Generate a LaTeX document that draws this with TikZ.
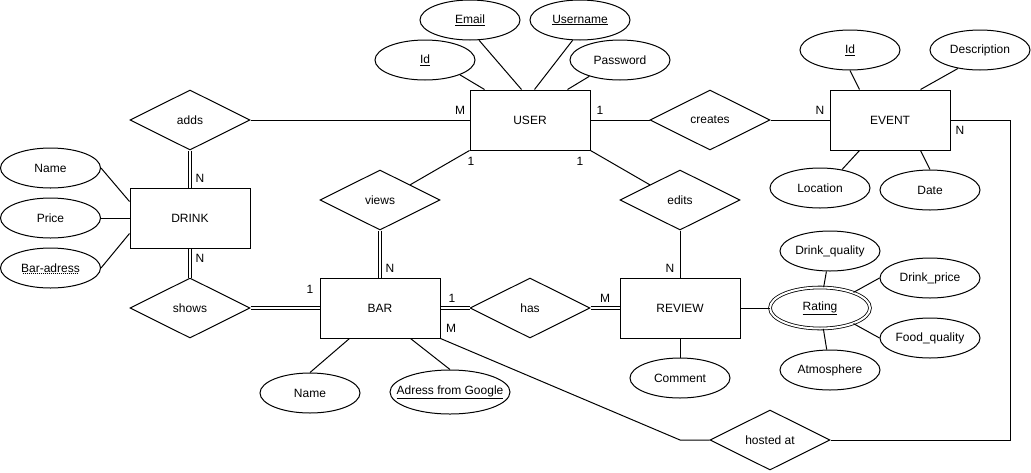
\documentclass[tikz,border=0pt]{standalone}
\usepackage{fontspec}
\setmainfont{Liberation Sans}
\usetikzlibrary{shapes.geometric}
\newcommand\zb[1]{\makebox[0pt]{#1}}
\begin{document}
\begin{tikzpicture}[x=1pt,y=-1pt,
  every node/.style={font=\fontsize{12}{14}\selectfont},
  ent/.style={draw,rectangle,minimum width=120pt,minimum height=60pt,line width=1pt,inner sep=0pt},
  attr/.style={draw,ellipse,minimum width=100pt,minimum height=40pt,line width=1pt,inner sep=0pt},
  rel/.style={draw,diamond,aspect=2,minimum width=120pt,minimum height=60pt,line width=1pt,inner sep=0pt},
  conn/.style={line width=1pt},
  dbl/.style={double,double distance=2pt,line width=0.8pt},
  card/.style={inner sep=0pt}
]
\useasboundingbox (0,0) rectangle (1031,472);

% entities
\node[ent] (user) at (530,120) {USER};
\node[ent] (drink) at (190,218) {DRINK};
\node[ent] (bar) at (380,308) {BAR};
\node[ent] (review) at (680,308) {REVIEW};
\node[ent] (event) at (890,120) {EVENT};

% relationships
\node[rel] (adds) at (190,120) {\zb{adds}};
\node[rel] (shows) at (190,308) {\zb{shows}};
\node[rel] (views) at (380,200) {\zb{views}};
\node[rel] (has) at (530,308) {\zb{has}};
\node[rel] (edits) at (680,200) {\zb{edits}};
\node[rel] (creates) at (710,120) {\zb{creates}};
\node[rel] (hosted) at (770,440) {\zb{hosted at}};

% user attributes
\node[attr] (uid) at (425,60) {\zb{\underline{Id}}};
\node[attr] (email) at (470,20) {\zb{\underline{Email}}};
\node[attr] (username) at (580,20) {\zb{\underline{Username}}};
\node[attr] (password) at (620,60) {\zb{Password}};

% drink attributes
\node[attr] (dname) at (50.5,168) {\zb{Name}};
\node[attr] (price) at (50.5,218) {\zb{Price}};
\node[attr] (baradr) at (50.5,268) {\zb{Bar-adress}};
\draw[line width=0.6pt,dash pattern=on 1pt off 1pt] ([xshift=-28pt,yshift=-5pt]baradr.center) -- ([xshift=28pt,yshift=-5pt]baradr.center);

% bar attributes
\node[attr] (bname) at (310,393) {\zb{Name}};
\node[attr,minimum width=120pt,minimum height=44pt] (bgoogle) at (450,392) {\zb{\underline{Adress from Google}}};

% review attributes
\node[attr] (comment) at (680,378) {\zb{Comment}};
\node[attr,double,double distance=2pt,line width=0.8pt,minimum height=41pt] (rating) at (820,308) {\zb{\underline{Rating}}};
\node[attr] (drinkq) at (830,251) {\zb{Drink\_quality}};
\node[attr] (drinkp) at (930,278) {\zb{Drink\_price}};
\node[attr] (foodq) at (930,338) {\zb{Food\_quality}};
\node[attr] (atmos) at (830,370) {\zb{Atmosphere}};

% event attributes
\node[attr] (eid) at (850,50) {\zb{\underline{Id}}};
\node[attr] (desc) at (980,50) {\zb{Description}};
\node[attr] (loc) at (820,188) {\zb{Location}};
\node[attr] (date) at (930,190) {\zb{Date}};

% attribute connectors
\draw[conn] (uid.-23) -- ([xshift=15pt]user.north west);
\draw[conn] (email.-66) -- ([xshift=52pt]user.north west);
\draw[conn] (username.-110) -- ([xshift=65pt]user.north west);
\draw[conn] (password.-152) -- ([xshift=-23pt]user.north east);

\draw[conn] (dname.east) -- ([yshift=-14pt]drink.north west);
\draw[conn] (price.east) -- (drink.west);
\draw[conn] (baradr.east) -- ([yshift=15pt]drink.south west);

\draw[conn] ([xshift=30pt]bar.south west) -- (bname.north);
\draw[conn] ([xshift=-30pt]bar.south east) -- (bgoogle.north);

\draw[conn] (review.south) -- (comment.north);
\draw[conn] (review.east) -- (rating.west);
\draw[conn] (rating) -- (drinkq);
\draw[conn] (rating.25) -- (drinkp.west);
\draw[conn] (rating.-25) -- (foodq.west);
\draw[conn] (rating) -- (atmos);

\draw[conn] (eid.south) -- ([xshift=30pt]event.north west);
\draw[conn] (desc.-140) -- ([xshift=-30pt]event.north east);
\draw[conn] (loc.40) -- ([xshift=30pt]event.south west);
\draw[conn] (date.north) -- ([xshift=-30pt]event.south east);

% relationship connectors
\draw[conn] (adds.east) -- (user.west);
\draw[dbl] (adds.south) -- (drink.north);
\draw[dbl] (drink.south) -- (shows.north);
\draw[dbl] (shows.east) -- (bar.west);
\draw[conn] (views.north east) -- (user.south west);
\draw[dbl] (views.south) -- (bar.north);
\draw[conn] (user.south east) -- (edits.north west);
\draw[conn] (edits.south) -- (review.north);
\draw[dbl] (bar.east) -- (has.west);
\draw[dbl] (has.east) -- (review.west);
\draw[conn] (user.east) -- (creates.west);
\draw[conn] (creates.east) -- (event.west);

\coordinate (ecorner) at (1010,120);
\draw[conn] (event.east) -- (ecorner) |- (hosted.east);
\coordinate (hbend) at (680,440);
\draw[conn] (bar.south east) -- (hbend) -- (hosted.west);

% cardinalities
\node[card] (c1) at (460,110) {M};
\node[card] (c2) at (600,110) {1};
\node[card] (c3) at (471,161) {1};
\node[card] (c4) at (580,161) {1};
\node[card] (c5) at (200,178) {N};
\node[card] (c6) at (200,258) {N};
\node[card] (c7) at (310,289) {1};
\node[card] (c8) at (390,268) {N};
\node[card] (c9) at (452,298) {1};
\node[card] (c10) at (451,328) {M};
\node[card] (c11) at (605,298) {M};
\node[card] (c12) at (670,268) {N};
\node[card] (c13) at (820,110) {N};
\node[card] (c14) at (960,130) {N};
\end{tikzpicture}
\end{document}
